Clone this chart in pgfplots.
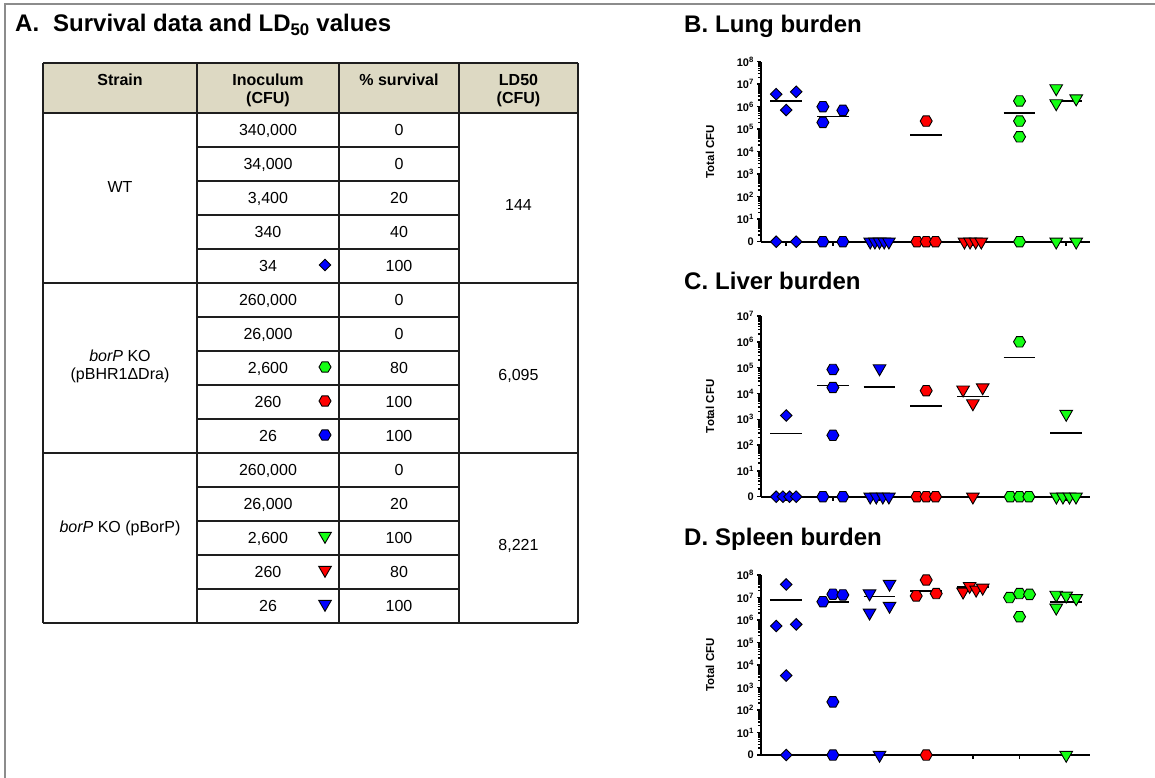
\documentclass[border=0pt]{standalone}
\usepackage{fontspec}
\setmainfont{Liberation Sans}
\usepackage{pgfplots}
\pgfplotsset{compat=1.18}

\definecolor{mblue}{RGB}{0,0,255}
\definecolor{mred}{RGB}{255,0,0}
\definecolor{mgreen}{RGB}{20,255,20}
\definecolor{hdr}{RGB}{221,217,195}
\definecolor{framegray}{RGB}{140,140,140}
\definecolor{tline}{RGB}{30,30,30}

\pgfdeclareplotmark{hex*}{%
 \pgfpathmoveto{\pgfpointpolar{0}{\pgfplotmarksize}}%
 \pgfpathlineto{\pgfpointpolar{60}{\pgfplotmarksize}}%
 \pgfpathlineto{\pgfpointpolar{120}{\pgfplotmarksize}}%
 \pgfpathlineto{\pgfpointpolar{180}{\pgfplotmarksize}}%
 \pgfpathlineto{\pgfpointpolar{240}{\pgfplotmarksize}}%
 \pgfpathlineto{\pgfpointpolar{300}{\pgfplotmarksize}}%
 \pgfpathclose\pgfusepathqfillstroke}
\pgfdeclareplotmark{dtri*}{%
 \pgfpathmoveto{\pgfpointpolar{270}{\pgfplotmarksize}}%
 \pgfpathlineto{\pgfpointpolar{30}{\pgfplotmarksize}}%
 \pgfpathlineto{\pgfpointpolar{150}{\pgfplotmarksize}}%
 \pgfpathclose\pgfusepathqfillstroke}
\pgfdeclareplotmark{dia*}{%
 \pgfpathmoveto{\pgfqpoint{0pt}{\pgfplotmarksize}}%
 \pgfpathlineto{\pgfqpoint{\pgfplotmarksize}{0pt}}%
 \pgfpathlineto{\pgfqpoint{0pt}{-\pgfplotmarksize}}%
 \pgfpathlineto{\pgfqpoint{-\pgfplotmarksize}{0pt}}%
 \pgfpathclose\pgfusepathqfillstroke}

\newcommand\tb{\fontsize{16}{19}\selectfont}
\newcommand\ttl{\fontsize{24}{28}\selectfont\bfseries}
\newcommand\tkf{\fontsize{11}{13}\selectfont\bfseries}
\newcommand\lbf{\fontsize{11.5}{13}\selectfont\bfseries}

\pgfplotsset{
 mdia/.style={only marks, mark=dia*, mark size=5.8pt, mark options={fill=#1,draw=black,line width=0.9pt}},
 mhex/.style={only marks, mark=hex*, mark size=6pt, mark options={fill=#1,draw=black,line width=0.9pt}},
 mtri/.style={only marks, mark=dtri*, mark size=7.3pt, mark options={fill=#1,draw=black,line width=0.9pt}},
 mline/.style={black, line width=1.6pt, mark=none},
}

\tikzset{
 tl/.style={draw=tline, line width=1.5pt},
 tc/.style={inner sep=0pt, text height=11.5pt, text depth=0pt, anchor=center, font=\tb},
 th/.style={inner sep=0pt, text height=11.5pt, text depth=0pt, anchor=center, font=\tb\bfseries},
 tt/.style={inner sep=0pt, anchor=base west, font=\ttl},
}

\begin{document}
\begin{tikzpicture}
\path[use as bounding box] (0pt,0pt) rectangle (1155pt,-778pt);
\begin{scope}[x=1pt,y=-1pt]
 \draw[framegray, line width=2pt] (5,780) -- (5,4) -- (1157,4);
 \fill[hdr] (43,63) rectangle (578,113);
 \foreach \y in {147,181,215,249,317,351,385,419,487,521,555,589} \draw[tl] (197,\y) -- (459,\y);
 \foreach \y in {63,113,283,453,623} \draw[tl] (43,\y) -- (578,\y);
 \foreach \x in {43,197,339,459,578} \draw[tl] (\x,63) -- (\x,623);
 % headers
 \node[th] at (120,80) {Strain};
 \node[th] at (268,80) {Inoculum};
 \node[th] at (268,98) {(CFU)};
 \node[th] at (399,80) {\% survival};
 \node[th] at (518.5,80) {LD50};
 \node[th] at (518.5,98) {(CFU)};
 % strain
 \node[tc] at (120,187) {WT};
 \node[tc] at (120,356) {\textit{borP} KO};
 \node[tc] at (120,374) {(pBHR1ΔDra)};
 \node[tc] at (120,527) {\textit{borP} KO (pBorP)};
 % inoculum
 \node[tc] at (268,130) {340,000};
 \node[tc] at (268,164) {34,000};
 \node[tc] at (268,198) {3,400};
 \node[tc] at (268,232) {340};
 \node[tc] at (268,266) {34};
 \node[tc] at (268,300) {260,000};
 \node[tc] at (268,334) {26,000};
 \node[tc] at (268,368) {2,600};
 \node[tc] at (268,402) {260};
 \node[tc] at (268,436) {26};
 \node[tc] at (268,470) {260,000};
 \node[tc] at (268,504) {26,000};
 \node[tc] at (268,538) {2,600};
 \node[tc] at (268,572) {260};
 \node[tc] at (268,606) {26};
 % survival
 \node[tc] at (399,130) {0};
 \node[tc] at (399,164) {0};
 \node[tc] at (399,198) {20};
 \node[tc] at (399,232) {40};
 \node[tc] at (399,266) {100};
 \node[tc] at (399,300) {0};
 \node[tc] at (399,334) {0};
 \node[tc] at (399,368) {80};
 \node[tc] at (399,402) {100};
 \node[tc] at (399,436) {100};
 \node[tc] at (399,470) {0};
 \node[tc] at (399,504) {20};
 \node[tc] at (399,538) {100};
 \node[tc] at (399,572) {80};
 \node[tc] at (399,606) {100};
 % LD50
 \node[tc] at (518.5,205) {144};
 \node[tc] at (518.5,375) {6,095};
 \node[tc] at (518.5,545) {8,221};
 % titles
 \node[tt] at (15,32) {A.};
 \node[tt] at (53,32) {Survival data and LD\textsubscript{50} values};
 \node[tt] at (684,33) {B.};
 \node[tt] at (715,33) {Lung burden};
 \node[tt] at (684,289) {C.};
 \node[tt] at (715,289) {Liver burden};
 \node[tt] at (684,545) {D.};
 \node[tt] at (715,545) {Spleen burden};
\end{scope}

% table symbols
\begin{axis}[at={(0pt,-778pt)}, anchor=south west, scale only axis, width=1155pt, height=778pt,
  xmin=0, xmax=1155, ymin=-778, ymax=0, hide axis, clip=false]
\addplot[mdia=mblue] coordinates {(325,-265)};
\addplot[mhex=mgreen] coordinates {(325,-367)};
\addplot[mhex=mred] coordinates {(325,-401)};
\addplot[mhex=mblue] coordinates {(325,-435)};
\addplot[mtri=mgreen] coordinates {(325,-536)};
\addplot[mtri=mred] coordinates {(325,-570)};
\addplot[mtri=mblue] coordinates {(325,-604)};
\end{axis}

% B. Lung
\begin{axis}[at={(761pt,-241.7pt)}, anchor=south west,
   scale only axis, width=329pt, height=180pt,
   ymode=log, ymin=1, ymax=1e8, xmin=0.46, xmax=7.51,
   axis x line*=bottom, axis y line*=left,
   axis line style={line width=1.8pt, black},
   xtick={1,2,3,4,5,6,7}, xticklabels={},
   ytick={1,10,100,1000,10000,100000,1000000,10000000,100000000},
   yticklabels={0,10\textsuperscript{1},10\textsuperscript{2},10\textsuperscript{3},10\textsuperscript{4},10\textsuperscript{5},10\textsuperscript{6},10\textsuperscript{7},10\textsuperscript{8}},
   tick align=outside, major tick length=4pt,
   tick style={black, line width=1.5pt},
   yticklabel style={font=\tkf, inner sep=1pt, xshift=-2pt},
   ylabel={Total CFU},
   ylabel style={at={(axis description cs:-0.155,0.5)}, anchor=center, font=\lbf},
   clip=false]
\addplot[mdia=mblue] coordinates {(0.786,3.6e6) (1.214,4.6e6) (1,7.1e5) (0.786,1) (1.214,1)};
\addplot[mhex=mblue] coordinates {(1.786,1e6) (1.786,2.0e5) (2.214,6.9e5) (1.786,1) (2.214,1)};
\addplot[mtri=mblue] coordinates {(2.8,1) (2.9,1) (3,1) (3.1,1) (3.2,1)};
\addplot[mhex=mred] coordinates {(4,2.3e5) (3.8,1) (4,1) (4.2,1)};
\addplot[mtri=mred] coordinates {(4.82,1) (4.94,1) (5.06,1) (5.18,1)};
\addplot[mhex=mgreen] coordinates {(6,1.8e6) (6,2.3e5) (6,4.6e4) (6,1)};
\addplot[mtri=mgreen] coordinates {(6.786,6.5e6) (6.786,1.4e6) (7.214,2.3e6) (6.786,1) (7.214,1)};
\addplot[mline] coordinates {(0.66,1.8e6) (1.34,1.8e6)};
\addplot[mline] coordinates {(1.66,3.7e5) (2.34,3.7e5)};
\addplot[mline] coordinates {(3.66,5.5e4) (4.34,5.5e4)};
\addplot[mline] coordinates {(5.66,5.4e5) (6.34,5.4e5)};
\addplot[mline] coordinates {(6.66,1.8e6) (7.34,1.8e6)};
\end{axis}

% C. Liver
\begin{axis}[at={(761pt,-496.7pt)}, anchor=south west,
   scale only axis, width=329pt, height=180.7pt,
   ymode=log, ymin=1, ymax=1e7, xmin=0.46, xmax=7.51,
   axis x line*=bottom, axis y line*=left,
   axis line style={line width=1.8pt, black},
   xtick={1,2,3,4,5,6,7}, xticklabels={},
   ytick={1,10,100,1000,10000,100000,1000000,10000000},
   yticklabels={0,10\textsuperscript{1},10\textsuperscript{2},10\textsuperscript{3},10\textsuperscript{4},10\textsuperscript{5},10\textsuperscript{6},10\textsuperscript{7}},
   tick align=outside, major tick length=4pt,
   tick style={black, line width=1.5pt},
   yticklabel style={font=\tkf, inner sep=1pt, xshift=-2pt},
   ylabel={Total CFU},
   ylabel style={at={(axis description cs:-0.155,0.5)}, anchor=center, font=\lbf},
   clip=false]
\addplot[mdia=mblue] coordinates {(1,1.4e3) (0.786,1) (0.929,1) (1.071,1) (1.214,1)};
\addplot[mhex=mblue] coordinates {(2,8.5e4) (2,1.7e4) (2,2.4e2) (1.786,1) (2.214,1)};
\addplot[mtri=mblue] coordinates {(3,9.3e4) (2.8,1) (2.93,1) (3.07,1) (3.2,1)};
\addplot[mhex=mred] coordinates {(4,1.28e4) (3.8,1) (4,1) (4.2,1)};
\addplot[mtri=mred] coordinates {(4.79,1.4e4) (5.21,1.7e4) (5,4.1e3) (5,1)};
\addplot[mhex=mgreen] coordinates {(6,1e6) (5.8,1) (6,1) (6.2,1)};
\addplot[mtri=mgreen] coordinates {(7,1.6e3) (6.79,1) (6.93,1) (7.07,1) (7.21,1)};
\addplot[mline] coordinates {(0.66,280) (1.34,280)};
\addplot[mline] coordinates {(1.66,2.0e4) (2.34,2.0e4)};
\addplot[mline] coordinates {(2.66,1.75e4) (3.34,1.75e4)};
\addplot[mline] coordinates {(3.66,3.2e3) (4.34,3.2e3)};
\addplot[mline] coordinates {(4.66,7.5e3) (5.34,7.5e3)};
\addplot[mline] coordinates {(5.66,2.5e5) (6.34,2.5e5)};
\addplot[mline] coordinates {(6.66,290) (7.34,290)};
\end{axis}

% D. Spleen
\begin{axis}[at={(761pt,-755pt)}, anchor=south west,
   scale only axis, width=329pt, height=180pt,
   ymode=log, ymin=1, ymax=1e8, xmin=0.46, xmax=7.51,
   axis x line*=bottom, axis y line*=left,
   axis line style={line width=1.8pt, black},
   xtick={1,2,3,4,5,6,7}, xticklabels={},
   ytick={1,10,100,1000,10000,100000,1000000,10000000,100000000},
   yticklabels={0,10\textsuperscript{1},10\textsuperscript{2},10\textsuperscript{3},10\textsuperscript{4},10\textsuperscript{5},10\textsuperscript{6},10\textsuperscript{7},10\textsuperscript{8}},
   tick align=outside, major tick length=4pt,
   tick style={black, line width=1.5pt},
   yticklabel style={font=\tkf, inner sep=1pt, xshift=-2pt},
   ylabel={Total CFU},
   ylabel style={at={(axis description cs:-0.155,0.5)}, anchor=center, font=\lbf},
   clip=false]
\addplot[mdia=mblue] coordinates {(1,3.8e7) (0.786,5.4e5) (1.214,6.4e5) (1,3.4e3) (1,1)};
\addplot[mhex=mblue] coordinates {(1.786,6.5e6) (2,1.4e7) (2.214,1.3e7) (2,2.3e2) (2,1)};
\addplot[mtri=mblue] coordinates {(2.786,1.5e7) (3.214,4.0e7) (2.786,2.1e6) (3.214,4.2e6) (3,1)};
\addplot[mhex=mred] coordinates {(3.786,1.17e7) (4,6.0e7) (4.214,1.5e7) (4,1)};
\addplot[mtri=mred] coordinates {(4.79,1.8e7) (4.93,3.2e7) (5.07,2.2e7) (5.21,2.7e7)};
\addplot[mhex=mgreen] coordinates {(5.786,1.0e7) (6,1.5e7) (6.214,1.38e7) (6,1.4e6)};
\addplot[mtri=mgreen] coordinates {(6.786,1.3e7) (7,1.2e7) (7.214,9.2e6) (6.786,3.5e6) (7,1)};
\addplot[mline] coordinates {(0.66,7.7e6) (1.34,7.7e6)};
\addplot[mline] coordinates {(1.66,6.5e6) (2.34,6.5e6)};
\addplot[mline] coordinates {(2.66,1.1e7) (3.34,1.1e7)};
\addplot[mline] coordinates {(3.66,2.0e7) (4.34,2.0e7)};
\addplot[mline] coordinates {(4.66,3.0e7) (5.34,3.0e7)};
\addplot[mline] coordinates {(5.66,1.2e7) (6.34,1.2e7)};
\addplot[mline] coordinates {(6.66,6.5e6) (7.34,6.5e6)};
\end{axis}
\end{tikzpicture}
\end{document}
